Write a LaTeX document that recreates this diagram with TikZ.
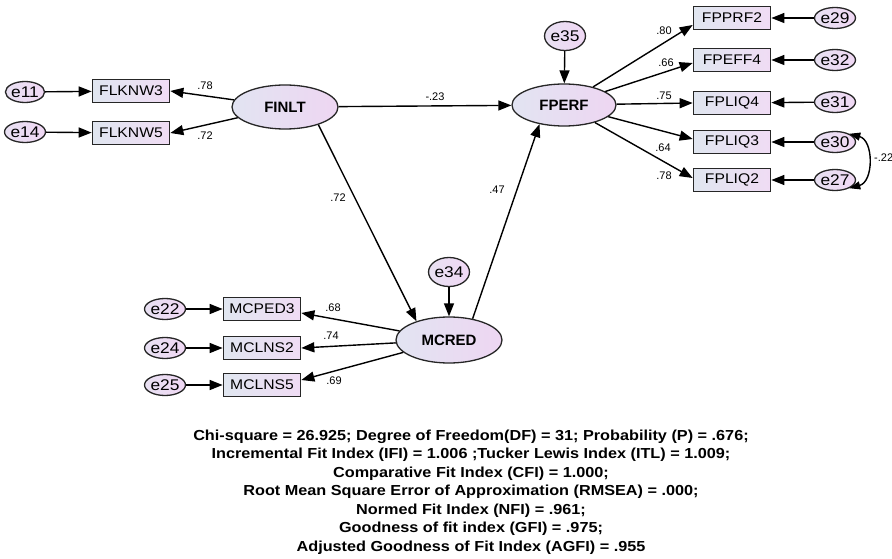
\documentclass[tikz,border=0pt]{standalone}
\usepackage{fontspec}
\setmainfont{Liberation Sans}
\newfontfamily\wfont[FakeStretch=1.12]{Liberation Sans}
\usetikzlibrary{shapes.geometric,arrows.meta}
\definecolor{boxL}{RGB}{224,230,240}
\definecolor{boxR}{RGB}{240,220,244}
\definecolor{latL}{RGB}{226,228,242}
\definecolor{latR}{RGB}{238,214,242}
\definecolor{errL}{RGB}{232,224,242}
\definecolor{errR}{RGB}{240,216,244}
\begin{document}
\begin{tikzpicture}[x=1pt,y=-1pt,
 obs/.style={draw=black!85, line width=1.7pt, rectangle, minimum width=77pt, minimum height=23pt, inner sep=0pt, left color=boxL, right color=boxR, font=\wfont\fontsize{14}{16}\selectfont},
 lat/.style={draw=black!85, line width=1.3pt, ellipse, minimum width=106pt, minimum height=44pt, inner sep=0pt, left color=latL, right color=latR, font=\bfseries\fontsize{15}{17}\selectfont},
 err/.style={draw=black!85, line width=1.3pt, ellipse, minimum width=36pt, minimum height=21pt, inner sep=0pt, left color=errL, right color=errR, font=\wfont\fontsize{15.5}{17}\selectfont},
 errc/.style={err, minimum width=32pt, minimum height=29pt},
 arr/.style={-{Triangle[length=13pt,width=10pt]}, line width=1.4pt},
 cov/.style={{Triangle[length=11pt,width=8pt]}-{Triangle[length=11pt,width=8pt]}, line width=1.4pt},
 coef/.style={font=\fontsize{11}{12}\selectfont, inner sep=0pt}
]
\useasboundingbox (0,0) rectangle (892,559);
\fill[white] (0,0) rectangle (892,559);

% latent variables
\node[lat] (FINLT) at (285,107) {FINLT};
\node[lat, minimum width=104pt, minimum height=42pt] (FPERF) at (564,105) {FPERF};
\node[lat, minimum height=46pt] (MCRED) at (449,340) {MCRED};

% FINLT indicators
\node[obs] (FLKNW3) at (131,91) {FLKNW3};
\node[obs] (FLKNW5) at (131,133) {FLKNW5};
\node[err] (e11) at (25,92) {e11};
\node[err] (e14) at (25,132) {e14};

% FPERF indicators
\node[obs] (FPPRF2) at (732,18) {FPPRF2};
\node[obs] (FPEFF4) at (732,60) {FPEFF4};
\node[obs] (FPLIQ4) at (732,103) {FPLIQ4};
\node[obs] (FPLIQ3) at (732,142) {FPLIQ3};
\node[obs] (FPLIQ2) at (732,180) {FPLIQ2};
\node[err] (e29) at (835,18) {e29};
\node[err] (e32) at (835,60) {e32};
\node[err] (e31) at (835,102) {e31};
\node[err] (e30) at (835,142) {e30};
\node[err] (e27) at (835,180) {e27};
\node[errc] (e35) at (565,36) {e35};

% MCRED indicators
\node[obs] (MCPED3) at (262,309) {MCPED3};
\node[obs] (MCLNS2) at (262,348) {MCLNS2};
\node[obs] (MCLNS5) at (262,385) {MCLNS5};
\node[err] (e22) at (165,309) {e22};
\node[err] (e24) at (165,348) {e24};
\node[err] (e25) at (165,385) {e25};
\node[errc] (e34) at (449,272) {e34};

% error arrows
\draw[arr] (e11) -- (FLKNW3);
\draw[arr] (e14) -- (FLKNW5);
\draw[arr] (e29) -- (FPPRF2);
\draw[arr] (e32) -- (FPEFF4);
\draw[arr] (e31) -- (FPLIQ4);
\draw[arr] (e30) -- (FPLIQ3);
\draw[arr] (e27) -- (FPLIQ2);
\draw[arr] (e22) -- (MCPED3);
\draw[arr] (e24) -- (MCLNS2);
\draw[arr] (e25) -- (MCLNS5);
\draw[arr] (e35) -- (FPERF);
\draw[arr] (e34) -- (MCRED);

% loadings
\draw[arr] (FINLT) -- (FLKNW3.east);
\draw[arr] (FINLT) -- (FLKNW5.east);
\draw[arr] (FPERF) -- ([yshift=-7pt]FPPRF2.west);
\draw[arr] (FPERF) -- ([yshift=-3pt]FPEFF4.west);
\draw[arr] (FPERF) -- (FPLIQ4.west);
\draw[arr] (FPERF) -- ([yshift=3pt]FPLIQ3.west);
\draw[arr] (FPERF) -- ([yshift=2pt]FPLIQ2.west);
\draw[arr] (MCRED) -- ([yshift=-4pt]MCPED3.east);
\draw[arr] (MCRED) -- (MCLNS2.east);
\draw[arr] (MCRED) -- ([yshift=5pt]MCLNS5.east);

% structural paths
\draw[arr] (FINLT) -- (FPERF);
\draw[arr] (FINLT.-28) -- (MCRED.150);
\draw[arr] (MCRED.42) -- (FPERF.218);

% covariance
\draw[cov] (e30.30) to[out=-15,in=15,looseness=1.2] (e27.-30);

% coefficients
\node[coef] (c1) at (205,86) {.78};
\node[coef] (c2) at (205,136) {.72};
\node[coef] (c3) at (435,97) {-.23};
\node[coef] (c4) at (338,198) {.72};
\node[coef] (c5) at (497,190) {.47};
\node[coef] (c6) at (664,31) {.80};
\node[coef] (c7) at (666,63) {.66};
\node[coef] (c8) at (664,96) {.75};
\node[coef] (c9) at (663,148) {.64};
\node[coef] (c10) at (664,176) {.78};
\node[coef] (c11) at (333,308) {.68};
\node[coef] (c12) at (331,336) {.74};
\node[coef] (c13) at (334,381) {.69};
\node[coef, anchor=west] (c14) at (874,158) {-.22};

% fit indices
\node[align=center, font=\wfont\bfseries\fontsize{14.5}{18.5}\selectfont, inner sep=0pt] (fit) at (471,492) {Chi-square = 26.925; Degree of Freedom(DF) = 31; Probability (P) = .676;\\
Incremental Fit Index (IFI) = 1.006 ;Tucker Lewis Index (ITL) = 1.009;\\
Comparative Fit Index (CFI) = 1.000;\\
Root Mean Square Error of Approximation (RMSEA) = .000;\\
Normed Fit Index (NFI) = .961;\\
Goodness of fit index (GFI) = .975;\\
Adjusted Goodness of Fit Index (AGFI) = .955};
\end{tikzpicture}
\end{document}
